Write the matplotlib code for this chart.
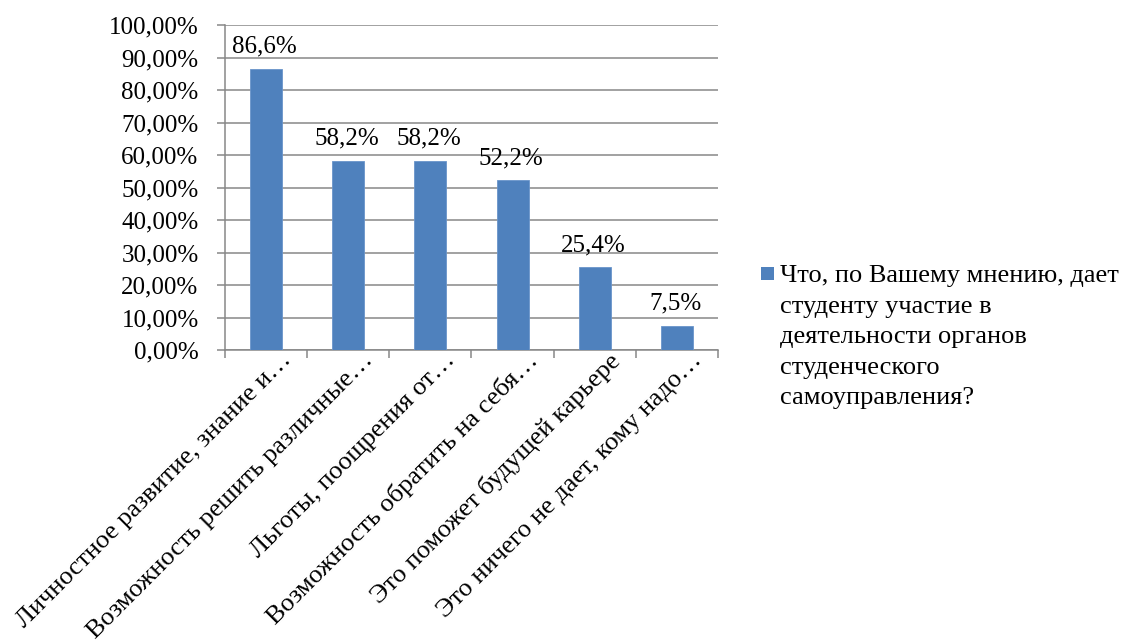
import matplotlib
matplotlib.use("Agg")
import matplotlib.pyplot as plt
import matplotlib.transforms as mtransforms
from matplotlib.patches import Rectangle
from matplotlib.ticker import FuncFormatter, FixedLocator
import numpy as np

categories = [
    "Личностное развитие, знание и…",
    "Возможность решить различные…",
    "Льготы, поощрения от…",
    "Возможность обратить на себя…",
    "Это поможет будущей карьере",
    "Это ничего не дает, кому надо…",
]
values = [0.866, 0.582, 0.582, 0.522, 0.254, 0.075]
value_labels = ["86,6%", "58,2%", "58,2%", "52,2%", "25,4%", "7,5%"]
yticks = [0.0, 0.1, 0.2, 0.3, 0.4, 0.5, 0.6, 0.7, 0.8, 0.9, 1.0]
legend_label = "Что, по Вашему мнению, дает\nстуденту участие в\nдеятельности органов\nстуденческого\nсамоуправления?"

plt.rcParams['font.family'] = ['Liberation Serif', 'DejaVu Serif']
FS = 18
FS_CAT = 19
FS_LEG = 19
BAR = "#4F81BD"
GRID = "#878787"

fig = plt.figure(figsize=(11.25, 6.44), dpi=100)
ax = fig.add_axes([225/1125, 1 - 350/644, (718-225)/1125, (350-25)/644])

x = np.arange(len(categories))
ax.bar(x, values, width=0.39, color=BAR, edgecolor="#6A95CB", linewidth=0.6, zorder=3)

for xi, v, lab in zip(x, values, value_labels):
    ax.annotate(lab, (xi, v), xytext=(-1, 11.5), textcoords="offset points",
                ha="center", va="baseline", fontsize=FS, color="black")

ax.set_xlim(-0.5, len(categories) - 0.5)
ax.set_ylim(0, 1.0)
ax.set_yticks(yticks)
ax.yaxis.set_major_formatter(FuncFormatter(lambda v, p: f"{v*100:.2f}%".replace(".", ",")))
ax.grid(axis="y", color=GRID, linewidth=1.1, zorder=0)
ax.set_axisbelow(True)

for s in ["top", "right"]:
    ax.spines[s].set_visible(False)
for s in ["left", "bottom"]:
    ax.spines[s].set_color(GRID)
    ax.spines[s].set_linewidth(1.1)

ax.tick_params(axis="y", length=6, width=1.1, color=GRID, pad=13, labelsize=FS)

# category labels at centers, tick marks at boundaries
ax.set_xticks(x)
ax.set_xticklabels(categories, rotation=45, ha="right", va="top",
                   rotation_mode="anchor", fontsize=FS_CAT)
ax.tick_params(axis="x", which="major", length=0, pad=0)
ax.xaxis.set_minor_locator(FixedLocator(np.arange(-0.5, len(categories), 1.0)))
ax.tick_params(axis="x", which="minor", length=5.5, width=1.1, color=GRID)

offset = mtransforms.ScaledTranslation(14/100, 1/100, fig.dpi_scale_trans)
for lbl in ax.get_xticklabels():
    lbl.set_transform(lbl.get_transform() + offset)

# legend (manual, Excel-like: marker aligned with first line)
fig.add_artist(Rectangle((761/1125, 1 - 280/644), 13/1125, 13/644,
                         transform=fig.transFigure, facecolor=BAR, edgecolor="none"))
fig.text(780/1125, 1 - 265/644, legend_label, ha="left", va="top",
         fontsize=FS_LEG, linespacing=1.5)

fig.savefig("out.png", dpi=100)
